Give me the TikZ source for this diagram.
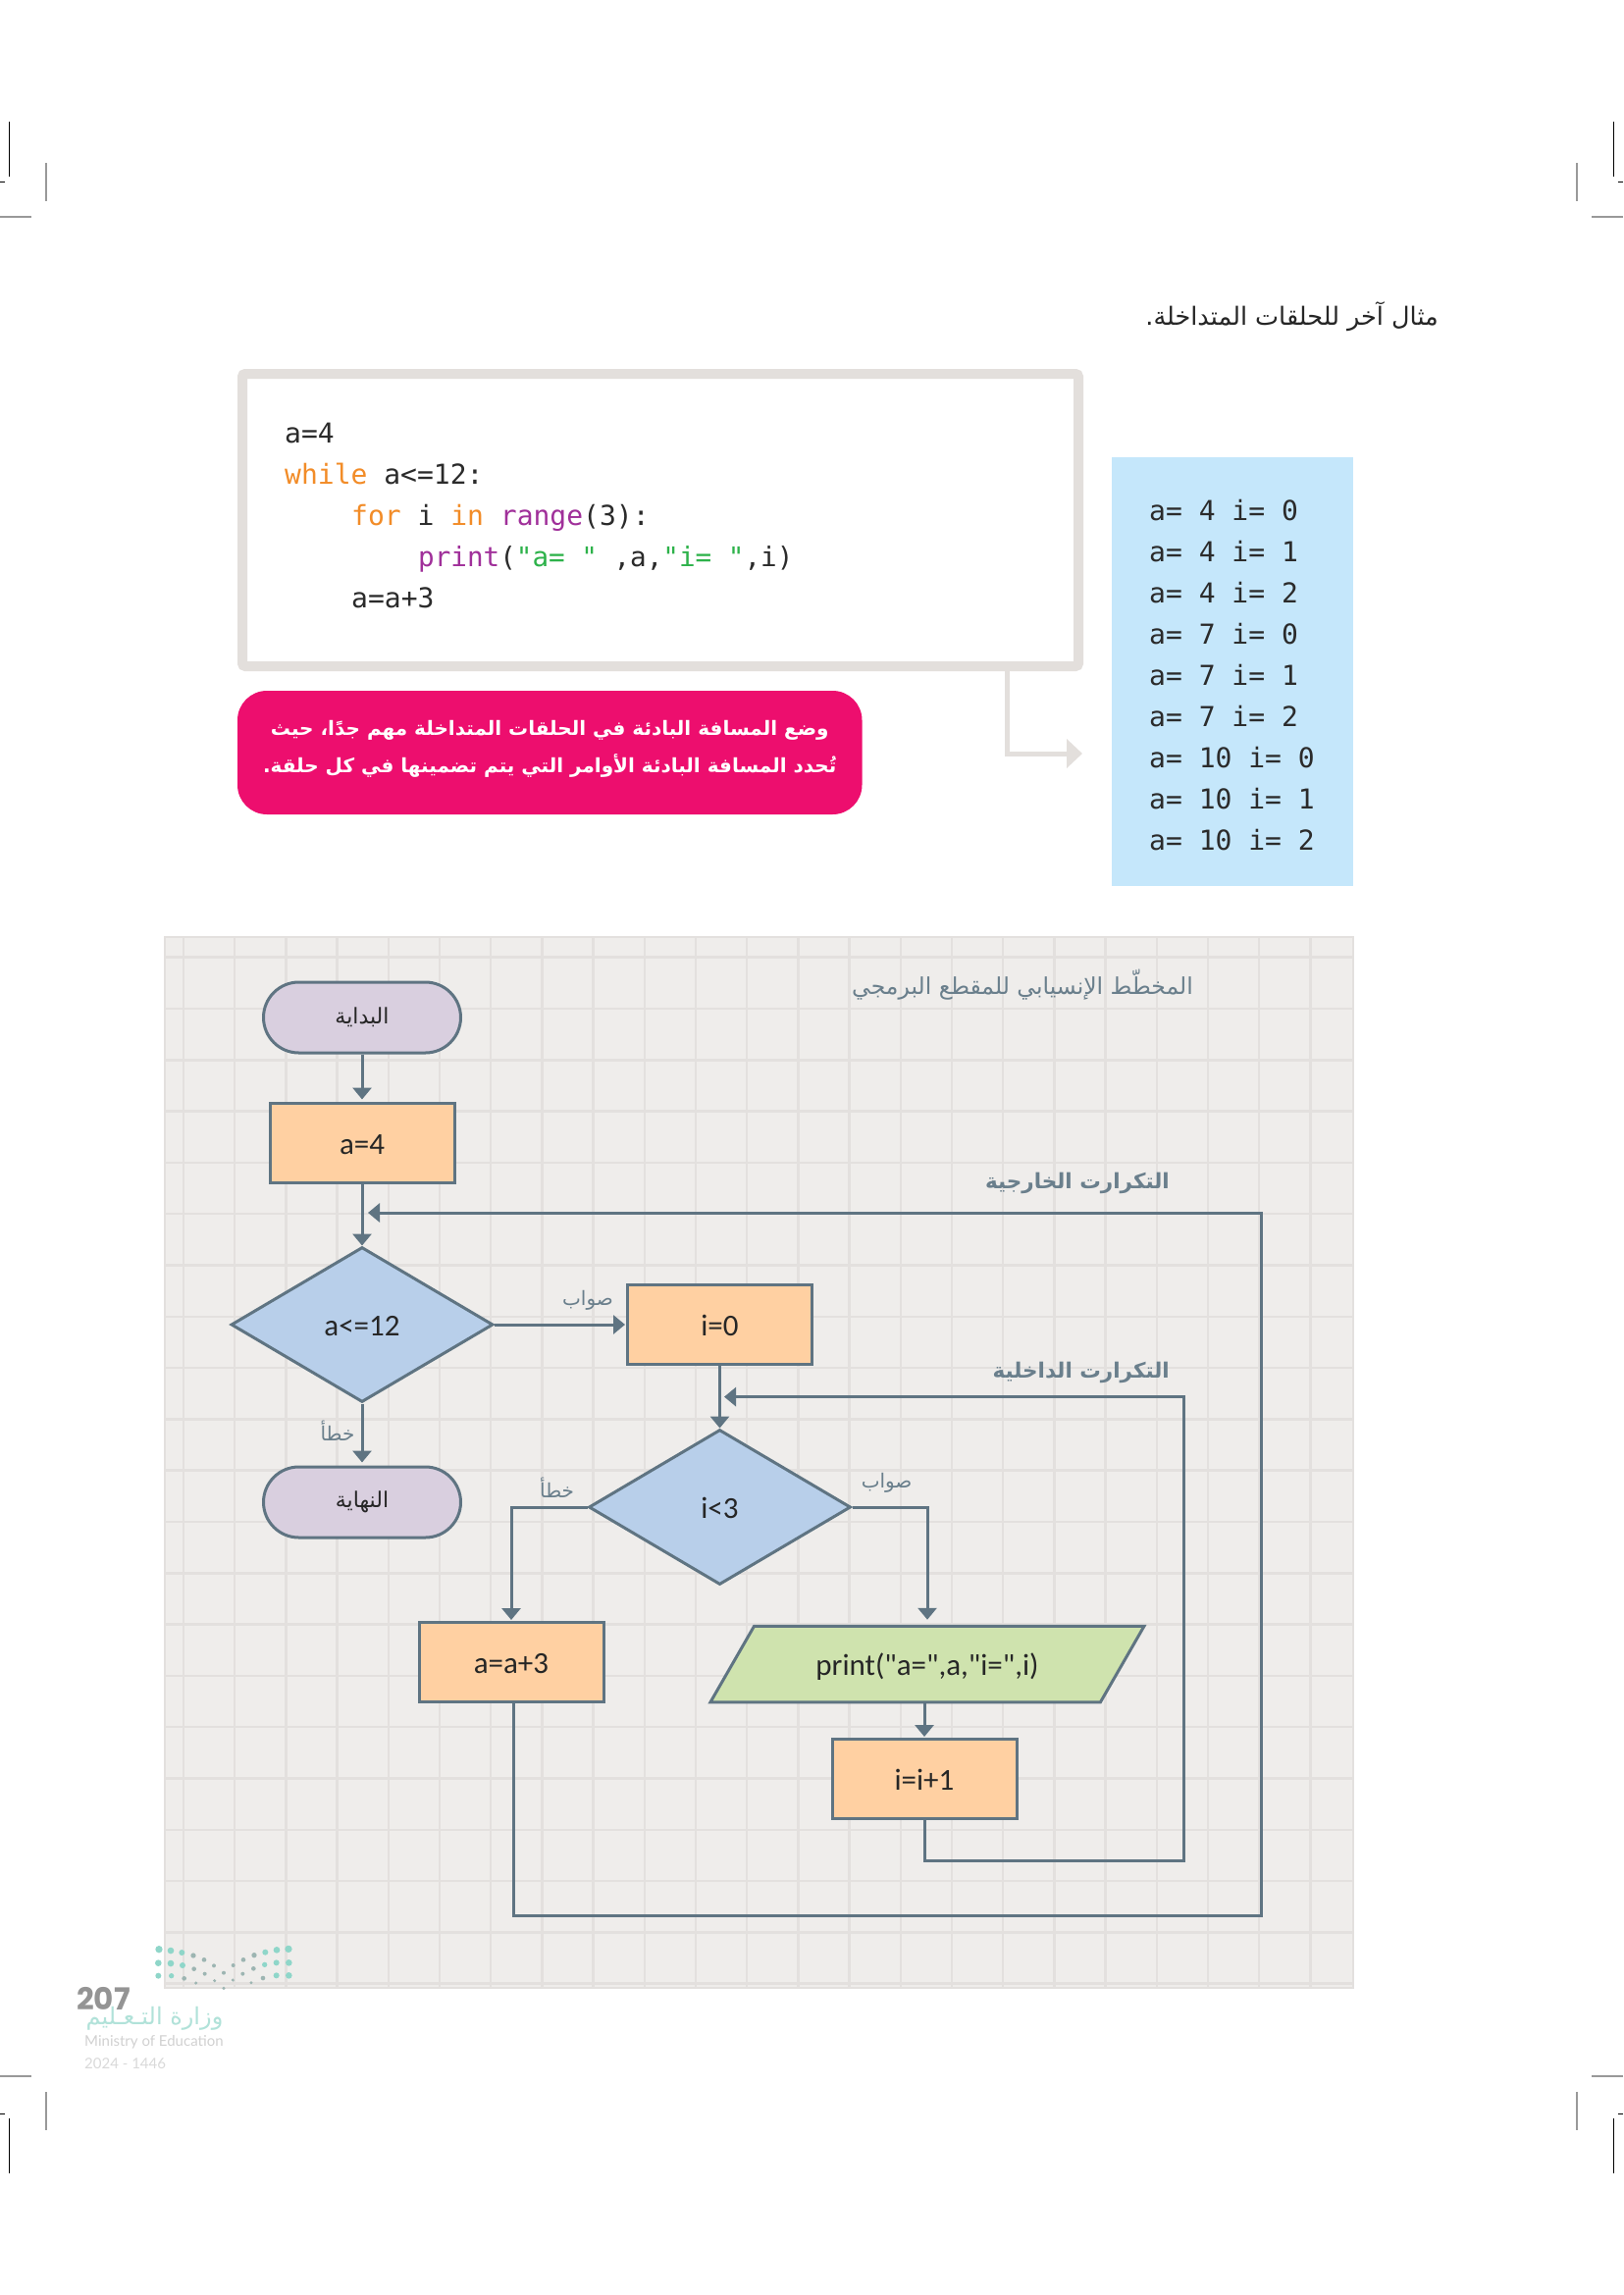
\documentclass[tikz,border=0pt]{standalone}
\usepackage{fontspec}
\usetikzlibrary{arrows.meta,shapes.geometric}
\TeXXeTstate=1
\newfontfamily\arfont[Script=Arabic]{DejaVu Sans}
\newfontfamily\codefont{DejaVu Sans Mono}
\newfontfamily\flowfont{Carlito}
\newfontfamily\latofont{Lato}
\newfontfamily\popfont{Poppins}
\newcommand{\AR}[1]{\arfont\beginR #1\endR}
\newcommand{\fsz}[1]{\fontsize{#1}{#1}\selectfont}
\definecolor{linec}{HTML}{5F7482}
\definecolor{labelc}{HTML}{6A7F8C}
\definecolor{panelbg}{HTML}{EFEDEB}
\definecolor{gridc}{HTML}{E3E0DE}
\definecolor{framec}{HTML}{E3DFDC}
\definecolor{pinkc}{HTML}{ED0E6E}
\definecolor{outc}{HTML}{C5E7FB}
\definecolor{termc}{HTML}{D9CFDF}
\definecolor{procc}{HTML}{FFD0A2}
\definecolor{decc}{HTML}{B8CFEA}
\definecolor{ioc}{HTML}{CFE3AE}
\definecolor{kw}{HTML}{F28C28}
\definecolor{fn}{HTML}{A0309A}
\definecolor{strc}{HTML}{2DB24A}
\definecolor{codec}{HTML}{2B2B2B}
\definecolor{tealdot}{HTML}{8FD6C9}
\definecolor{graydot}{HTML}{9DB5B2}
\tikzset{
  flowshape/.style={draw=linec,line width=3pt,inner sep=0pt,text=black!85},
  flowtext/.style={flowshape,font=\flowfont\fsz{31},text height=23pt,text depth=0pt},
  termbox/.style={flowshape,rectangle,rounded corners=36pt,fill=termc,minimum width=201pt,minimum height=72pt,font=\fsz{22}},
  procbox/.style={flowtext,rectangle,fill=procc,minimum width=188pt,minimum height=81pt},
  decbox/.style={flowtext,diamond,fill=decc,minimum width=267pt,minimum height=158pt,aspect=1.68},
  iobox/.style={flowtext,trapezium,trapezium left angle=27.3,trapezium right angle=152.7,trapezium stretches body,fill=ioc,minimum width=442pt,minimum height=77.5pt},
  flowarrow/.style={draw=linec,line width=3pt,-{Triangle[length=12pt,width=19pt]}},
  arlabel/.style={text=labelc,font=\fsz{20},inner sep=0pt},
  loopcap/.style={text=labelc,font=\fsz{21.5}\bfseries,inner sep=0pt},
  codeline/.style={anchor=base west,inner sep=0pt,text=codec,font=\codefont\fsz{28}},
  cropdark/.style={draw=black,line width=1.5pt},
  cropgray/.style={draw=black!40,line width=2pt},
}
\begin{document}
\begin{tikzpicture}[x=1pt,y=-1pt]
\useasboundingbox (0,0) rectangle (1654,2339);
\fill[white] (0,0) rectangle (1654,2339);

% crop marks
\foreach \sx/\ax/\bx/\cx/\dx in {0/9.3/0/46.7/0, 1/1644.7/1654/1607.3/1654}{
  \pgfmathsetmacro{\ex}{\sx==0 ? 5 : 1649}
  \pgfmathsetmacro{\fx}{\sx==0 ? 32 : 1622}
  \draw[cropdark] (\ax,124) -- (\ax,180);
  \draw[cropdark,line width=1pt] (\bx,185) -- (\ex,185);
  \draw[cropgray] (\cx,166) -- (\cx,205);
  \draw[cropgray] (\dx,221) -- (\fx,221);
  \draw[cropgray] (\dx,2116) -- (\fx,2116);
  \draw[cropgray] (\cx,2132) -- (\cx,2171);
  \draw[cropdark,line width=1pt] (\bx,2154) -- (\ex,2154);
  \draw[cropdark] (\ax,2159) -- (\ax,2215);
}

% heading
\node[anchor=base east,inner sep=0pt,text=black!85,font=\fsz{25.5}] (heading) at (1466,331) {\AR{مثال آخر للحلقات المتداخلة.}};

% code frame
\node[draw=framec,line width=10pt,rounded corners=3pt,fill=white,minimum width=852pt,minimum height=298pt,inner sep=0pt] (code) at (673,530) {};
\node[codeline] (c1) at (290,451) {a=4};
\node[codeline] (c2) at (290,493) {\textcolor{kw}{while} a<=12:};
\node[codeline] (c3) at (358,535) {\textcolor{kw}{for} i \textcolor{kw}{in} \textcolor{fn}{range}(3):};
\node[codeline,font=\codefont\fsz{27.6}] (c4) at (426,577) {\textcolor{fn}{print}(\textcolor{strc}{"a= "} ,a,\textcolor{strc}{"i= "},i)};
\node[codeline] (c5) at (358,619) {a=a+3};

% output panel
\node[fill=outc,minimum width=246pt,minimum height=437pt,inner sep=0pt] (output) at (1256,684.5) {};
\foreach \t [count=\k] in {a= 4 i= 0,a= 4 i= 1,a= 4 i= 2,a= 7 i= 0,a= 7 i= 1,a= 7 i= 2,a= 10 i= 0,a= 10 i= 1,a= 10 i= 2}{
  \node[codeline] (out\k) at (1171,{488+42*\k}) {\t};
}

% gray connector
\coordinate (graytip) at (1103,768);
\draw[draw=framec,line width=5pt,-{Triangle[length=16pt,width=29pt]}] ([xshift=353pt]code.south) |- (graytip);

% pink note
\node[fill=pinkc,rounded corners=30pt,minimum width=636.5pt,minimum height=126pt,inner sep=0pt] (note) at (560.25,767) {};
\node[inner sep=0pt,text=white,align=center,font=\fontsize{20}{38}\selectfont\bfseries] (notetext) at (560.25,763) {\arfont\beginR وضع المسافة البادئة في الحلقات المتداخلة مهم جدًا، حيث\endR\\\arfont\beginR تُحدد المسافة البادئة الأوامر التي يتم تضمينها في كل حلقة.\endR};

% flowchart panel
\fill[panelbg] (168,955) rectangle (1379,2026);
\foreach \i in {0,...,22}{
  \pgfmathsetmacro{\gx}{187+52.2*\i}
  \draw[gridc,line width=2.5pt] (\gx,955) -- (\gx,2026);
}
\foreach \i in {0,...,20}{
  \pgfmathsetmacro{\gy}{975.7+52.3*\i}
  \draw[gridc,line width=2.5pt] (168,\gy) -- (1379,\gy);
}
\draw[gridc,line width=2.5pt] (168,955) rectangle (1379,2026);

% logo dots
\foreach \xx/\yy/\rr in {336/110/11,372/114/10,406/120/9,732/109/11,696/112/10,661/119/9,334/152/10,372/153/10,408/159/9,733/151/10,695/151/9,659/157/8,334/191/9,374/191/8,733/190/10,695/190/9}{
  \fill[tealdot] ({50+\xx/3},{1950+\yy/3}) circle ({\rr/3});
}
\foreach \xx/\yy/\rr in {441/129/8,474/142/7,504/160/6,534/182/6,563/159/6,594/142/7,627/128/8,443/170/7,476/185/6,506/206/5,534/229/5,562/204/5,592/185/6,625/169/7,413/199/7,449/213/5,618/212/5,654/198/7}{
  \fill[graydot] ({50+\xx/3},{1950+\yy/3}) circle ({\rr/3});
}
\node[anchor=base west,inner sep=0pt,text=black!42,font=\popfont\fsz{31}\bfseries] (pageno) at (78,2048) {207};
\node[anchor=center,inner sep=0pt,text=tealdot!70,font=\fsz{24}] (ministryar) at (157.5,2057) {\AR{وزارة التـعـليم}};
\node[anchor=base west,inner sep=0pt,text=black!18,font=\latofont\fsz{15}] (ministryen) at (86,2085) {Ministry of Education};
\node[anchor=base west,inner sep=0pt,text=black!15,font=\latofont\fsz{15}] (year) at (86,2108) {2024 - 1446};

% flowchart nodes
\node[termbox] (start) at (369,1037) {\AR{البداية}};
\node[procbox] (a4) at (369,1164.5) {a=4};
\node[decbox] (d1) at (369,1350) {a<=12};
\node[termbox] (stop) at (369,1531) {\AR{النهاية}};
\node[procbox] (i0) at (733.5,1350) {i=0};
\node[decbox] (d2) at (733.5,1536) {i<3};
\node[procbox] (a3) at (521,1694) {a=a+3};
\node[iobox] (print) at (945,1696) {print("a=",a,"i=",i)};
\node[procbox] (inc) at (942,1813) {i=i+1};

% free-end coordinates
\coordinate (outertip) at (375,1236);
\coordinate (outercorner) at (1285,1952);
\coordinate (innertip) at (738,1423.6);
\coordinate (innercorner) at (1206,1896);

% connectors
\draw[flowarrow,shorten >=2pt] (start) -- (a4);
\draw[flowarrow] (a4) -- (d1.north);
\draw[flowarrow,shorten >=3pt] (d1.south) -- (stop);
\draw[flowarrow,shorten >=1pt] (d1.east) -- (i0);
\draw[flowarrow] (i0) -- (d2.north);
\draw[flowarrow,shorten >=1pt] (d2.west) -| (a3.north);
\draw[flowarrow,shorten >=5pt] (d2.east) -| (print.north);
\draw[flowarrow,shorten >=1pt] (print.south -| inc.north) -- (inc.north);
\draw[flowarrow] (inc.south) |- (innercorner) -- (innercorner |- innertip) -- (innertip);
\draw[flowarrow] ([xshift=2pt]a3.south) |- (outercorner) -- (outercorner |- outertip) -- (outertip);

% flowchart labels
\node[arlabel] (t1) at (599,1325) {\AR{صواب}};
\node[arlabel] (f1) at (344,1458) {\AR{خطأ}};
\node[arlabel] (f2) at (567.6,1516) {\AR{خطأ}};
\node[arlabel] (t2) at (903.6,1511) {\AR{صواب}};
\node[text=labelc,inner sep=0pt,font=\fsz{23.5}] (title) at (1042,1004) {\AR{المخطّط الإنسيابي للمقطع البرمجي}};
\node[loopcap,anchor=east] (outercap) at (1192,1206) {\AR{التكرارت الخارجية}};
\node[loopcap,anchor=east] (innercap) at (1192,1399) {\AR{التكرارت الداخلية}};
\end{tikzpicture}
\end{document}
